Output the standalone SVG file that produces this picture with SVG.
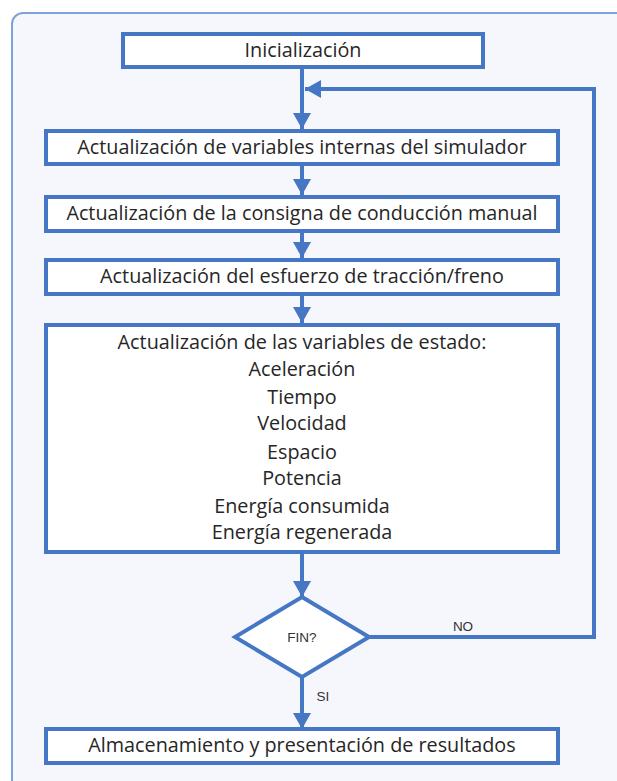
<svg xmlns="http://www.w3.org/2000/svg" width="617" height="781" viewBox="0 0 617 781">
<style>
.box{fill:#ffffff;stroke:#4677c4;stroke-width:4}
.t{font-family:"Open Sans",Lato,sans-serif;font-size:19.8px;fill:#262626;text-anchor:middle}
.s{font-family:"Liberation Sans",Arial,sans-serif;font-size:13.5px;fill:#333333;text-anchor:middle}
.ln{fill:none;stroke:#4677c4;stroke-width:4}
</style>
<defs>
<marker id="ah" markerWidth="16" markerHeight="18" refX="16" refY="9" orient="auto" markerUnits="userSpaceOnUse">
<path d="M0,0 L16,9 L0,18 Z" fill="#4677c4"/>
</marker>
</defs>
<rect x="0" y="0" width="617" height="781" fill="#ffffff"/>
<rect x="12" y="13" width="640" height="800" rx="11" fill="#f5f7fc" stroke="#7ea2da" stroke-width="2"/>
<g id="connectors">
<line class="ln" x1="302" y1="67" x2="302" y2="129" marker-end="url(#ah)"/>
<polyline class="ln" points="369,637 594,637 594,89 305,89" marker-end="url(#ah)"/>
<line class="ln" x1="302" y1="164" x2="302" y2="195" marker-end="url(#ah)"/>
<line class="ln" x1="302" y1="231" x2="302" y2="258" marker-end="url(#ah)"/>
<line class="ln" x1="302" y1="294" x2="302" y2="323" marker-end="url(#ah)"/>
<line class="ln" x1="302" y1="552" x2="302" y2="597" marker-end="url(#ah)"/>
<line class="ln" x1="302" y1="677" x2="302" y2="729" marker-end="url(#ah)"/>
<text class="s" x="463" y="631">NO</text>
<text class="s" x="323" y="701">SI</text>
</g>
<g id="n-inicializacion">
<rect class="box" x="123" y="34" width="360" height="33"/>
<text class="t" x="303" y="57">Inicialización</text>
</g>
<g id="n-internas">
<rect class="box" x="46" y="131" width="512" height="33"/>
<text class="t" x="302" y="154">Actualización de variables internas del simulador</text>
</g>
<g id="n-consigna">
<rect class="box" x="46" y="197" width="512" height="34"/>
<text class="t" x="302" y="220">Actualización de la consigna de conducción manual</text>
</g>
<g id="n-esfuerzo">
<rect class="box" x="46" y="260" width="512" height="34"/>
<text class="t" x="302" y="283">Actualización del esfuerzo de tracción/freno</text>
</g>
<g id="n-estado">
<rect class="box" x="46" y="325" width="512" height="227"/>
<text class="t" x="302" y="349">Actualización de las variables de estado:</text>
<text class="t" x="302" y="376">Aceleración</text>
<text class="t" x="302" y="404">Tiempo</text>
<text class="t" x="302" y="430">Velocidad</text>
<text class="t" x="302" y="459">Espacio</text>
<text class="t" x="302" y="485">Potencia</text>
<text class="t" x="302" y="513">Energía consumida</text>
<text class="t" x="302" y="539">Energía regenerada</text>
</g>
<g id="n-fin">
<polygon class="box" points="302,597 369,637 302,677 235,637"/>
<text class="s" x="302" y="642">FIN?</text>
</g>
<g id="n-resultados">
<rect class="box" x="46" y="729" width="512" height="34"/>
<text class="t" x="302" y="752">Almacenamiento y presentación de resultados</text>
</g>
</svg>
